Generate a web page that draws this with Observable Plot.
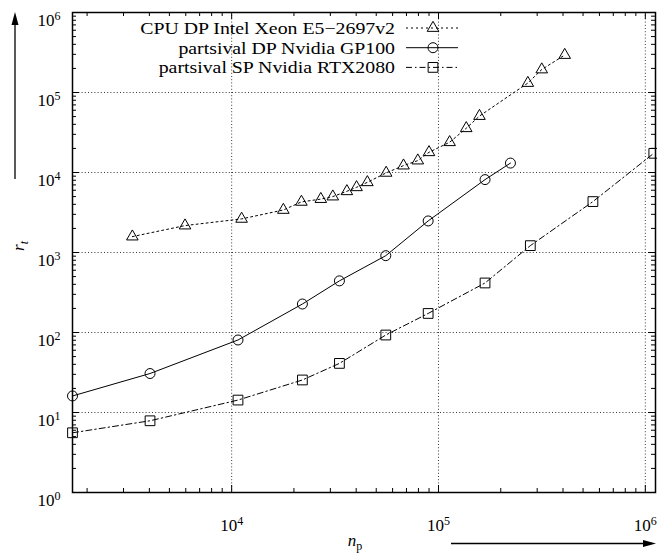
<!DOCTYPE html>
<html><head><meta charset="utf-8">
<script src="https://cdn.jsdelivr.net/npm/d3@7"></script>
<script src="https://cdn.jsdelivr.net/npm/@observablehq/plot@0.6"></script>
<style>
body{margin:0;background:#fff;}
#chart{position:relative;width:657px;height:560px;}
</style></head><body><div id="chart"></div>
<script>
// ---- data ----
const cpuN = [3310, 5950, 11170, 17780, 21740, 26980, 30830, 36060, 40170, 45300, 55840, 67740, 79430, 89980, 113200, 136200, 157800, 270400, 315700, 407700];
const cpuR = [1580, 2170, 2630, 3400, 4290, 4650, 5000, 5820, 6530, 7540, 9890, 12190, 14090, 17890, 23880, 35720, 50740, 131300, 193700, 294000];
const gp100N = [1700, 4030, 10730, 21980, 33190, 55610, 89130, 167900, 222800];
const gp100R = [16.1, 30.7, 80.6, 227, 442, 913, 2480, 8150, 13110];
const rtxN = [1700, 4030, 10730, 21980, 33190, 55610, 89130, 167900, 278000, 558000, 1099000];
const rtxR = [5.58, 7.88, 14.3, 25.5, 41.1, 93, 173, 416, 1218, 4330, 17380];
const seriesNames = ["CPU DP Intel Xeon E5\u22122697v2", "partsival DP Nvidia GP100", "partsival SP Nvidia RTX2080"];
const xMajor = [1e4, 1e5, 1e6];
const yMajor = [1, 10, 100, 1e3, 1e4, 1e5, 1e6];
const xDomain = [1700, 1.12e6];
const yDomain = [1, 1e6];

// ---- layout ----
const W = 657, H = 560;
const mL = 72, mR = 2, mT = 12, mB = 68;
const fw = W - mL - mR, fh = H - mT - mB;
const majorLen = 7, minorLen = 4;
const font = "'Liberation Serif', 'Times New Roman', serif";

const mk = (N, R) => N.map((n, i) => ({n, r: R[i]}));
const cpu = mk(cpuN, cpuR), gp = mk(gp100N, gp100R), rtx = mk(rtxN, rtxR);

const minorOf = (dom) => {
  const out = [];
  for (let e = Math.floor(Math.log10(dom[0])); e <= Math.ceil(Math.log10(dom[1])); e++)
    for (let k = 2; k <= 9; k++) { const v = k * 10 ** e; if (v > dom[0] && v < dom[1]) out.push(v); }
  return out;
};
const xMinor = minorOf(xDomain), yMinor = minorOf(yDomain);
const xMaj = xMajor.filter(v => v >= xDomain[0] && v <= xDomain[1]);

const styles = [
  {data: cpu, dash: "2,3", symbol: "triangle", r: 4.3},
  {data: gp, dash: null, symbol: "circle", r: 5},
  {data: rtx, dash: "6,3,1.5,3", symbol: "square", r: 5.5}
];
const expFmt = d => String(Math.round(Math.log10(d)));

const plot = Plot.plot({
  width: W, height: H,
  marginLeft: mL, marginRight: mR, marginTop: mT, marginBottom: mB,
  x: {type: "log", domain: xDomain},
  y: {type: "log", domain: yDomain},
  marks: [
    // dotted grid
    Plot.ruleX(xMaj.filter(v => v < xDomain[1]), {x: d => d, stroke: "#222", strokeWidth: 0.9, strokeDasharray: "1,2.2"}),
    Plot.ruleY(yMajor.filter(v => v > yDomain[0] && v < yDomain[1]), {y: d => d, stroke: "#222", strokeWidth: 0.9, strokeDasharray: "1,2.2"}),
    // inward ticks on all four sides
    Plot.tickX(xMaj, {x: d => d, insetTop: fh - majorLen, stroke: "black"}),
    Plot.tickX(xMaj, {x: d => d, insetBottom: fh - majorLen, stroke: "black"}),
    Plot.tickX(xMinor, {x: d => d, insetTop: fh - minorLen, stroke: "black"}),
    Plot.tickX(xMinor, {x: d => d, insetBottom: fh - minorLen, stroke: "black"}),
    Plot.tickY(yMajor, {y: d => d, insetRight: fw - majorLen, stroke: "black"}),
    Plot.tickY(yMajor, {y: d => d, insetLeft: fw - majorLen, stroke: "black"}),
    Plot.tickY(yMinor, {y: d => d, insetRight: fw - minorLen, stroke: "black"}),
    Plot.tickY(yMinor, {y: d => d, insetLeft: fw - minorLen, stroke: "black"}),
    // series
    ...styles.map(s => Plot.line(s.data, {x: "n", y: "r", stroke: "black", strokeWidth: 1, strokeDasharray: s.dash})),
    ...styles.map(s => Plot.dot(s.data, {x: "n", y: "r", symbol: s.symbol, r: s.r, stroke: "black", fill: "none", strokeWidth: 1})),
    Plot.frame({stroke: "black", strokeWidth: 1.5}),
    Plot.axisX(xMajor, {tickSize: 0, tickPadding: 14, tickFormat: expFmt, label: null}),
    Plot.axisY(yMajor, {tickSize: 0, tickPadding: 12, tickFormat: expFmt, label: null})
  ]
});

const svg = d3.select(plot);
svg.attr("font-family", font).style("font-family", font).style("background", "white");
// superscript exponents
svg.selectAll('g[aria-label="x-axis tick label"] text, g[aria-label="y-axis tick label"] text').each(function () {
  const e = this.textContent;
  const t = d3.select(this);
  t.text(null);
  t.style("font-family", font).style("font-size", "17px").attr("fill", "black");
  t.append("tspan").text("10");
  t.append("tspan").attr("dy", "-0.5em").style("font-size", "12px").text(e);
});
svg.selectAll('g[aria-label="x-axis tick label"] text').attr("dy", "0.71em");
svg.selectAll('g[aria-label="y-axis tick label"] text').attr("dy", "0.45em");

// axis titles with arrows
const ov = svg.append("g").style("font-family", font).attr("fill", "black");
const yt = ov.append("text").attr("transform", "translate(24,246) rotate(-90)").attr("text-anchor", "middle").style("font-size", "17px");
yt.append("tspan").attr("font-style", "italic").text("r");
yt.append("tspan").attr("font-style", "italic").style("font-size", "12px").attr("dy", 4).text("t");
ov.append("line").attr("x1", 15).attr("x2", 15).attr("y1", 179).attr("y2", 22).attr("stroke", "black").attr("stroke-width", 1.3);
ov.append("path").attr("d", "M15,12 L11.5,25 L18.5,25 Z").attr("fill", "black");
const xt = ov.append("text").attr("x", 355).attr("y", 546).style("font-size", "17px");
xt.append("tspan").attr("font-style", "italic").text("n");
xt.append("tspan").style("font-size", "12px").attr("dy", 4).text("p");
ov.append("line").attr("x1", 451).attr("x2", 645).attr("y1", 543.5).attr("y2", 543.5).attr("stroke", "black").attr("stroke-width", 1.3);
ov.append("path").attr("d", "M656,543.5 L643,540 L643,547 Z").attr("fill", "black");

// legend (top right inside frame)
const lg = svg.append("g").style("font-family", font).style("font-size", "17px").attr("fill", "black");
const symMap = {triangle: d3.symbolTriangle, circle: d3.symbolCircle, square: d3.symbolSquare};
const legendTexts = [];
styles.forEach((s, i) => {
  const y = 28 + i * 19.7;
  legendTexts.push(lg.append("text").attr("x", 395).attr("y", y).attr("dy", "0.35em").attr("text-anchor", "end").text(seriesNames[i]));
  const ln = lg.append("line").attr("x1", 406).attr("x2", 458).attr("y1", y).attr("y2", y).attr("stroke", "black").attr("stroke-width", 1);
  if (s.dash) ln.attr("stroke-dasharray", s.dash);
  lg.append("path").attr("transform", `translate(433,${y})`)
    .attr("d", d3.symbol(symMap[s.symbol], Math.PI * s.r * s.r)())
    .attr("fill", "none").attr("stroke", "black").attr("stroke-width", 1);
});

document.getElementById("chart").appendChild(plot);
// widen legend glyphs to match the reference's wider typeface
legendTexts.forEach(t => {
  const w = t.node().getComputedTextLength();
  t.attr("textLength", (w * 1.165).toFixed(1)).attr("lengthAdjust", "spacingAndGlyphs");
});
</script>
</body></html>
